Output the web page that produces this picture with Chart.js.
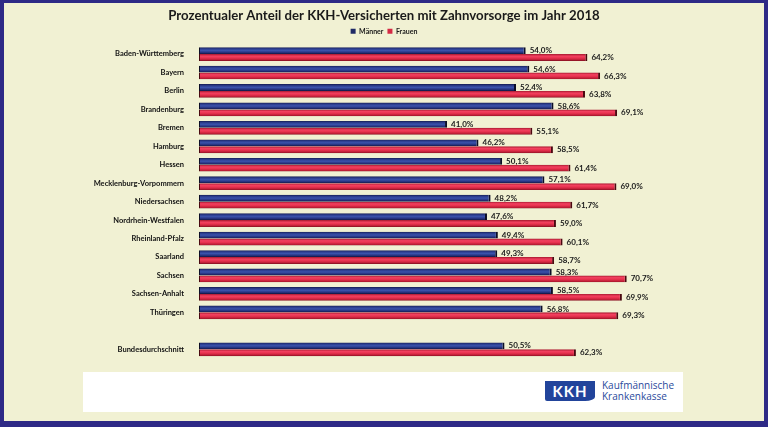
<!DOCTYPE html>
<html lang="de">
<head>
<meta charset="utf-8">
<title>Zahnvorsorge 2018</title>
<script src="https://cdn.jsdelivr.net/npm/chart.js@4.4.1/dist/chart.umd.min.js"></script>
<style>
  html, body { margin: 0; padding: 0; }
  body { width: 768px; height: 427px; background: #2e2a86; position: relative; overflow: hidden; }
  #panel { position: absolute; left: 4px; top: 3px; width: 760px; height: 418px; background: #f1f1d3; }
  #chartBox { position: absolute; left: 0; top: 0; }
  #logoBox { position: absolute; left: 83px; top: 372px; width: 600px; height: 40px; background: #fff; }
  #kkh { position: absolute; left: 462px; top: 9px; width: 50px; height: 20px; background: #22449b;
         color: #fff; font: bold 15px Lato, sans-serif; text-align: center; line-height: 20px; letter-spacing: 1px;
         border-bottom-left-radius: 2px; border-bottom-right-radius: 10px 4px; }
  #kkhText { position: absolute; left: 519px; top: 8px; color: #2b4a9c; font: 10px "Open Sans", sans-serif; line-height: 11px; }
</style>
</head>
<body>
<div id="panel"></div>
<div id="chartBox"><canvas id="chart" width="768" height="370"></canvas></div>
<div id="logoBox">
  <div id="kkh">KKH</div>
  <div id="kkhText">Kaufmännische<br>Krankenkasse</div>
</div>
<script>
// Prozentualer Anteil der KKH-Versicherten mit Zahnvorsorge 2018
const categories = [
  "Baden-Württemberg", "Bayern", "Berlin", "Brandenburg", "Bremen", "Hamburg", "Hessen",
  "Mecklenburg-Vorpommern", "Niedersachsen", "Nordrhein-Westfalen", "Rheinland-Pfalz",
  "Saarland", "Sachsen", "Sachsen-Anhalt", "Thüringen", "", "Bundesdurchschnitt"
];
const maenner = [54.0, 54.6, 52.4, 58.6, 41.0, 46.2, 50.1, 57.1, 48.2, 47.6, 49.4, 49.3, 58.3, 58.5, 56.8, null, 50.5];
const frauen  = [64.2, 66.3, 63.8, 69.1, 55.1, 58.5, 61.4, 69.0, 61.7, 59.0, 60.1, 58.7, 70.7, 69.9, 69.3, null, 62.3];
const seriesNames = ["Männer", "Frauen"];

const BAR_H = 7;

// cylinder-like shading, top bar = Männer, bottom bar = Frauen
function barGradient(c, which, stops, solid) {
  const chart = c.chart;
  const ys = chart.scales && chart.scales.y;
  if (c.dataIndex === undefined || !ys || !ys.height) return solid;
  const yc = ys.getPixelForValue(c.dataIndex);
  const top = which === 0 ? yc - BAR_H : yc;
  const g = chart.ctx.createLinearGradient(0, top, 0, top + BAR_H);
  stops.forEach(([p, col]) => g.addColorStop(p, col));
  return g;
}

const blueStops = [[0, "#141a4e"], [0.25, "#2c3d8e"], [0.5, "#3a52ab"], [0.8, "#24307a"], [1, "#10153f"]];
const redStops  = [[0, "#a8182f"], [0.3, "#f2405f"], [0.55, "#e8324f"], [0.85, "#b81c34"], [1, "#6e0c1a"]];

const valueLabels = {
  id: "valueLabels",
  afterDatasetsDraw(chart) {
    const ctx = chart.ctx;
    ctx.save();
    ctx.font = "bold 8px Lato, sans-serif";
    ctx.fillStyle = "#1a1a1a";
    ctx.textBaseline = "middle";
    ctx.textAlign = "left";
    chart.data.datasets.forEach((ds, di) => {
      chart.getDatasetMeta(di).data.forEach((el, i) => {
        const v = ds.data[i];
        if (v === null || v === undefined) return;
        ctx.fillText(v.toFixed(1).replace(".", ",") + "%", el.x + 4, el.y);
      });
    });
    ctx.restore();
  }
};

new Chart(document.getElementById("chart"), {
  type: "bar",
  data: {
    labels: categories,
    datasets: [
      {
        label: seriesNames[0],
        data: maenner,
        backgroundColor: (c) => barGradient(c, 0, blueStops, "#1f2a6c"),
        borderColor: "#0b0d26",
        borderWidth: { top: 0, bottom: 0, left: 1, right: 2 },
        borderSkipped: false
      },
      {
        label: seriesNames[1],
        data: frauen,
        backgroundColor: (c) => barGradient(c, 1, redStops, "#d42a44"),
        borderColor: "#4a0810",
        borderWidth: { top: 0, bottom: 0, left: 1, right: 2 },
        borderSkipped: false
      }
    ]
  },
  options: {
    indexAxis: "y",
    responsive: false,
    animation: false,
    events: [],
    categoryPercentage: 0.743,
    barPercentage: 1.0,
    layout: { padding: { left: 0, right: 0, top: 0, bottom: 2 } },
    scales: {
      x: { display: false, min: 0, max: 80 },
      y: {
        grid: { display: false },
        border: { display: false },
        ticks: { color: "#111111", font: { family: "Lato", size: 7.5, weight: "bold" }, padding: 7 },
        afterFit(scale) { scale.width = 199; }
      },
      // empty spacer on the right so title/legend stay centred on the page
      yRight: {
        axis: "y",
        type: "linear",
        position: "right",
        grid: { display: false },
        border: { display: false },
        ticks: { display: false },
        afterFit(scale) { scale.width = 85; }
      }
    },
    plugins: {
      title: {
        display: true,
        text: "Prozentualer Anteil der KKH-Versicherten mit Zahnvorsorge im Jahr 2018",
        color: "#1a1a1a",
        font: { family: "Lato", size: 13.2, weight: "bold" },
        padding: { top: 8, bottom: 0 }
      },
      legend: {
        display: true,
        labels: {
          color: "#1a1a1a",
          font: { family: "Lato", size: 7, weight: "bold" },
          boxWidth: 5,
          boxHeight: 5,
          padding: 4,
          generateLabels: () => [
            { text: seriesNames[0], fillStyle: "#1f2a66", strokeStyle: "#1f2a66", lineWidth: 0, datasetIndex: 0, fontColor: "#1a1a1a" },
            { text: seriesNames[1], fillStyle: "#d42a44", strokeStyle: "#d42a44", lineWidth: 0, datasetIndex: 1, fontColor: "#1a1a1a" }
          ]
        }
      },
      tooltip: { enabled: false }
    }
  },
  plugins: [valueLabels]
});
</script>
</body>
</html>
